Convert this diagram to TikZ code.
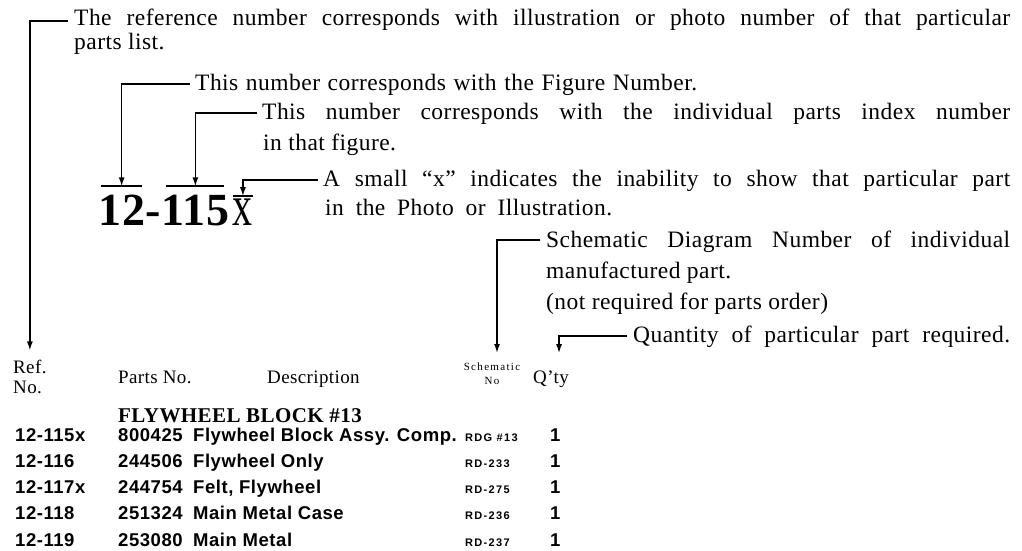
\documentclass[tikz,border=0pt]{standalone}
\usepackage{fontspec}
\setmainfont{Liberation Serif}[LetterSpace=2]
\newfontfamily\rowfamily{Liberation Sans}[LetterSpace=3]
\newfontfamily\tinyfamily{Liberation Sans}[LetterSpace=12]
\newfontfamily\tinyserif{Liberation Serif}[LetterSpace=12]
\usetikzlibrary{arrows.meta}

\newcommand{\notefont}{\fontsize{23.5}{28}\selectfont}
\newcommand{\fullline}[2]{\makebox[#1pt][s]{#2}}

\tikzset{
  note/.style={anchor=base west, inner sep=0pt, font=\notefont},
  hdr/.style={anchor=base west, inner sep=0pt, font=\fontsize{19}{22}\selectfont},
  tinyhdr/.style={anchor=north, inner sep=0pt, align=center,
    font=\tinyserif\fontsize{11}{14}\selectfont},
  bignum/.style={anchor=base west, inner xsep=0pt, inner ysep=8pt,
    font=\fontsize{46}{46}\selectfont\bfseries},
  rowtext/.style={anchor=base west, inner sep=0pt,
    font=\rowfamily\bfseries\fontsize{18.5}{22}\selectfont},
  rowsch/.style={anchor=base west, inner sep=0pt,
    font=\tinyfamily\bfseries\fontsize{11}{13}\selectfont},
  leader/.style={line width=1.5pt},
  bar/.style={line width=2pt}
}

\begin{document}
\begin{tikzpicture}[x=1pt, y=-1pt, >={Latex[length=9pt,width=6pt]}]
  \useasboundingbox (0,0) rectangle (1022,551);

  % Explanatory notes
  \node[note] (l1) at (74,26) {\fullline{936}{The reference number corresponds with illustration or photo number of that particular}};
  \node[note] (l2) at (74,50) {parts list.};
  \node[note] (l3) at (195,90) {\fullline{502}{This number corresponds with the Figure Number.}};
  \node[note] (l4) at (262,119) {\fullline{748}{This number corresponds with the individual parts index number}};
  \node[note] (l5) at (263,150) {in that figure.};
  \node[note] (l6) at (323,186) {\fullline{687}{A small ``x'' indicates the inability to show that particular part}};
  \node[note] (l7) at (325,215) {\fullline{287}{in the Photo or Illustration.}};
  \node[note] (l8) at (546,247) {\fullline{464}{Schematic Diagram Number of individual}};
  \node[note] (l9) at (546,278) {manufactured part.};
  \node[note] (l10) at (546,309) {(not required for parts order)};
  \node[note] (l11) at (633,342) {\fullline{377}{Quantity of particular part required.}};

  % Sample reference number
  \node[bignum] (n12) at (98,225) {12};
  \node[bignum] (ndash) at (n12.base east) {-};
  \node[bignum] (n115) at (ndash.base east) {115};
  \node[anchor=base west, inner xsep=0pt, inner ysep=2pt,
    font=\fontsize{40}{40}\selectfont] (nx) at ([xshift=3pt]n115.base east) {\scalebox{1}[1.45]{x}};
  \draw[bar] ([xshift=3pt]n12.north west) -- ([xshift=-3pt]n12.north east);
  \draw[bar] ([xshift=5pt]n115.north west) -- ([xshift=-6pt]n115.north east);
  \draw[bar] (nx.north west) -- (nx.north east);

  % Column headings
  \node[hdr] (refhdr) at (13,373) {Ref.};
  \node[hdr] (refno) at (13,393) {No.};
  \node[hdr] (partshdr) at (118,383) {Parts No.};
  \node[hdr] (deschdr) at (267,383) {Description};
  \node[tinyhdr] (schhdr) at (492,363) {Schematic\\No};
  \node[hdr] (qtyhdr) at (533,383) {Q'ty};

  % Leaders
  \draw[leader,->] ([xshift=-6pt,yshift=5pt]l1.base west) -| ([yshift=9pt]refhdr.north);
  \draw[leader,->] ([xshift=-5pt,yshift=6pt]l3.base west) -| (n12.north);
  \draw[leader,->] ([xshift=-5pt,yshift=6pt]l4.base west) -| (n115.north);
  \draw[leader,->] ([xshift=-5pt,yshift=6pt]l6.base west) -| (nx.north);
  \draw[leader,->] ([xshift=-6pt,yshift=7pt]l8.base west) -| ([xshift=5pt,yshift=10pt]schhdr.north);
  \draw[leader,->] ([xshift=-6pt,yshift=6pt]l11.base west) -| ([xshift=8pt,yshift=17pt]qtyhdr.north);

  % Parts list
  \node[anchor=base west, inner sep=0pt, font=\fontsize{21}{24}\selectfont\bfseries]
    (block) at (118,422) {FLYWHEEL BLOCK \#13};
  \foreach \refno/\partno/\desc/\schno/\qty [count=\i] in {
      12-115x/800425/Flywheel Block Assy. Comp./RDG \#13/1,
      12-116/244506/Flywheel Only/RD-233/1,
      12-117x/244754/{Felt, Flywheel}/RD-275/1,
      12-118/251324/Main Metal Case/RD-236/1,
      12-119/253080/Main Metal/RD-237/1
  } {
      \node[rowtext] (ref\i) at (15,{415+26.2*\i}) {\refno};
      \node[rowtext] (part\i) at (118,{415+26.2*\i}) {\partno};
      \node[rowtext] (desc\i) at (193,{415+26.2*\i}) {\desc};
      \node[rowsch] (sch\i) at (465,{415+26.2*\i}) {\schno};
      \node[rowtext] (qty\i) at (550,{415+26.2*\i}) {\qty};
  }
\end{tikzpicture}
\end{document}
